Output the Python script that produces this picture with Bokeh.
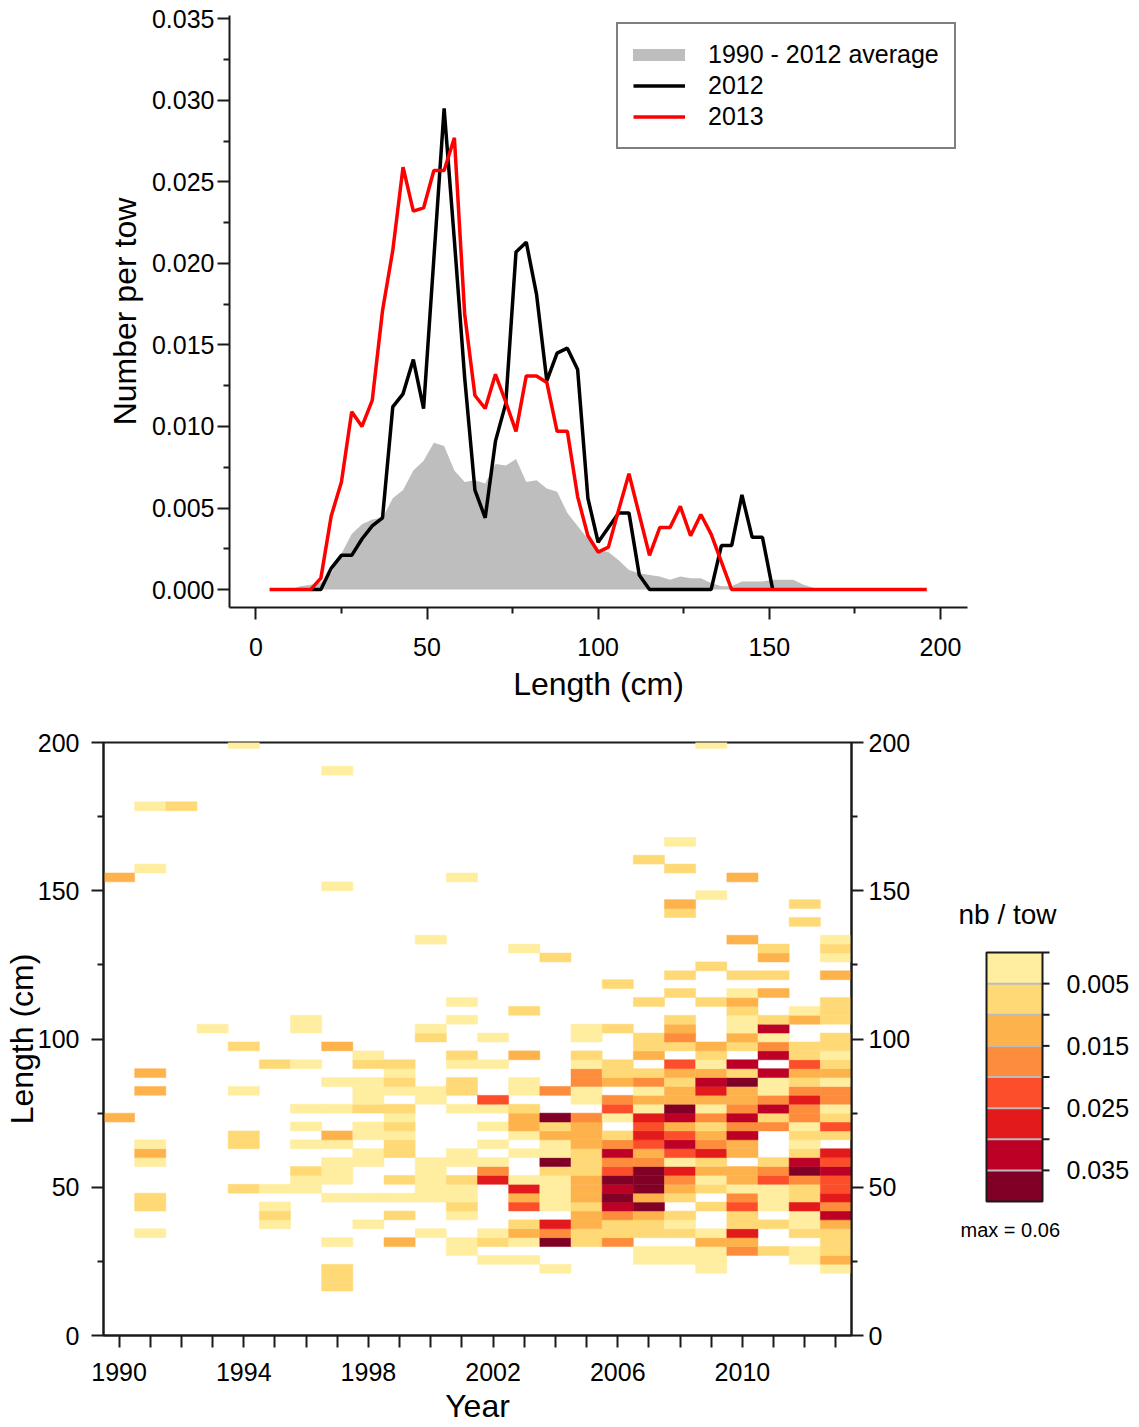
from bokeh.plotting import figure
from bokeh.models import (Range1d, FixedTicker, LinearAxis, Legend, LegendItem,
                          LinearColorMapper, ColumnDataSource, PrintfTickFormatter)
from bokeh.layouts import column, row
from bokeh.transform import transform
from bokeh.core.properties import value
from bokeh.embed import file_html
from bokeh.resources import INLINE

FONT = "Liberation Sans"

# ---------------- top panel data ----------------
length_cm = [4, 7, 10, 13, 16, 19, 22, 25, 28, 31, 34, 37, 40, 43, 46, 49, 52, 55, 58, 61,
             64, 67, 70, 73, 76, 79, 82, 85, 88, 91, 94, 97, 100, 103, 106, 109, 112, 115, 118, 121,
             124, 127, 130, 133, 136, 139, 142, 145, 148, 151, 154, 157, 160, 163, 166, 169, 172, 175, 178, 181,
             184, 187, 190, 193, 196]

avg_1990_2012 = [0, 0, 0, 0.0002, 0.0003, 0.0004, 0.0010, 0.0022, 0.0034, 0.0040,
                 0.0043, 0.0044, 0.0056, 0.0061, 0.0073, 0.0079, 0.0090, 0.0088, 0.0073, 0.0066,
                 0.0067, 0.0065, 0.0077, 0.0076, 0.0080, 0.0066, 0.0067, 0.0062, 0.0060, 0.0047,
                 0.0039, 0.0031, 0.0024, 0.0023, 0.0018, 0.0012, 0.0010, 0.0009, 0.0008, 0.0006,
                 0.0008, 0.0007, 0.0007, 0.0004, 0.0002, 0.0002, 0.0005, 0.0005, 0.0005, 0.0006,
                 0.0006, 0.0006, 0.0003, 0.0001, 0.0001, 0.0001, 0.0001, 0.0001, 0.0001, 0.0001,
                 0, 0, 0, 0, 0]

tow_2013 = [0, 0, 0, 0, 0, 0.0007, 0.0045, 0.0066, 0.0109, 0.0100,
            0.0116, 0.0171, 0.0208, 0.0259, 0.0232, 0.0234, 0.0257, 0.0257, 0.0277, 0.0169,
            0.0119, 0.0111, 0.0132, 0.0115, 0.0097, 0.0131, 0.0131, 0.0127, 0.0097, 0.0097,
            0.0057, 0.0033, 0.0023, 0.0026, 0.0049, 0.0071, 0.0046, 0.0021, 0.0038, 0.0038,
            0.0051, 0.0033, 0.0046, 0.0034, 0.0017, 0, 0, 0, 0, 0,
            0, 0, 0, 0, 0, 0, 0, 0, 0, 0,
            0, 0, 0, 0, 0]

length_2012 = length_cm[4:50]   # 16 .. 151 cm
tow_2012 = [0, 0, 0.0013, 0.0021, 0.0021, 0.0031, 0.0039, 0.0044, 0.0112, 0.0120,
            0.0141, 0.0111, 0.0203, 0.0295, 0.0214, 0.0130, 0.0061, 0.0044, 0.0091, 0.0114,
            0.0207, 0.0213, 0.0181, 0.0128, 0.0145, 0.0148, 0.0135, 0.0056, 0.0029, 0.0038,
            0.0047, 0.0047, 0.0009, 0, 0, 0, 0, 0, 0, 0,
            0.0027, 0.0027, 0.0058, 0.0032, 0.0032, 0]

top_y_ticks = [0.0, 0.005, 0.010, 0.015, 0.020, 0.025, 0.030, 0.035]
top_y_minor = [0.0025, 0.0075, 0.0125, 0.0175, 0.0225, 0.0275, 0.0325]
top_x_ticks = [0, 50, 100, 150, 200]
top_x_minor = [25, 75, 125, 175]

# ---------------- heat map data ----------------
heat_bin_cm = 3
heat_years = list(range(1990, 2014))
heat_labelled_years = [1990, 1994, 1998, 2002, 2006, 2010]
heat_len_ticks = [0, 50, 100, 150, 200]
heat_len_minor = [25, 75, 125, 175]
heat_cells = [
    [(72, .0125), (153, .0125)],  # 1990
    [(33, .003), (42, .0075), (45, .0075), (57, .003), (60, .0125), (63, .003), (81, .0125), (87, .0125),
     (156, .003), (177, .003)],  # 1991
    [(177, .0075)],  # 1992
    [(102, .003)],  # 1993
    [(48, .0075), (63, .0075), (66, .0075), (81, .003), (96, .0075), (198, .003)],  # 1994
    [(36, .003), (39, .0075), (42, .003), (48, .003), (90, .0075)],  # 1995
    [(48, .003), (51, .003), (54, .0075), (63, .003), (69, .003), (75, .003), (90, .003), (102, .003),
     (105, .003)],  # 1996
    [(15, .0075), (18, .0075), (21, .0075), (30, .003), (45, .003), (51, .003), (54, .003), (57, .003),
     (63, .003), (66, .0125), (75, .003), (84, .003), (96, .0125), (150, .003), (189, .003)],  # 1997
    [(36, .003), (45, .003), (57, .003), (60, .003), (66, .003), (69, .003), (75, .0075), (78, .003),
     (81, .003), (84, .003), (90, .0075), (93, .003)],  # 1998
    [(30, .0125), (39, .0075), (45, .003), (51, .0075), (60, .0075), (63, .0075), (66, .003), (69, .0075),
     (72, .003), (75, .0075), (81, .003), (84, .0075), (87, .003), (90, .0075)],  # 1999
    [(33, .003), (45, .003), (48, .003), (51, .003), (54, .003), (57, .003), (78, .003), (81, .003),
     (99, .0075), (102, .003), (132, .003)],  # 2000
    [(27, .003), (30, .003), (39, .003), (42, .0075), (45, .003), (48, .003), (51, .0075), (57, .003),
     (60, .003), (75, .003), (81, .0075), (84, .0075), (90, .003), (93, .0075), (105, .003), (111, .003),
     (153, .003)],  # 2001
    [(24, .003), (30, .0075), (33, .003), (51, .0275), (54, .0175), (57, .003), (63, .003), (69, .003),
     (75, .003), (78, .0225), (90, .003), (99, .003)],  # 2002
    [(24, .003), (30, .003), (33, .0125), (36, .0075), (42, .0225), (45, .0125), (48, .0275), (51, .003),
     (60, .003), (66, .003), (69, .0125), (72, .0125), (75, .0075), (81, .003), (84, .003), (93, .0125),
     (108, .0075), (129, .003)],  # 2003
    [(21, .003), (30, .045), (33, .0175), (36, .0275), (42, .003), (45, .003), (48, .003), (51, .003),
     (54, .0075), (57, .045), (60, .003), (63, .003), (66, .0125), (69, .0075), (72, .045), (81, .0175),
     (126, .0075)],  # 2004
    [(30, .0075), (33, .0075), (36, .0125), (39, .0125), (42, .0075), (45, .0125), (48, .0125), (51, .0125),
     (54, .0075), (57, .0075), (60, .0075), (63, .0125), (66, .0125), (69, .0125), (72, .0175), (78, .003),
     (81, .003), (84, .0175), (87, .0175), (90, .003), (93, .0075), (99, .003), (102, .003)],  # 2005
    [(30, .0175), (33, .0075), (36, .0075), (39, .0175), (42, .0325), (45, .045), (48, .0325), (51, .045),
     (54, .0225), (57, .0175), (60, .0325), (63, .0175), (66, .0075), (72, .003), (75, .0225), (78, .0175),
     (84, .0125), (87, .0075), (90, .0075), (102, .0075), (117, .0075)],  # 2006
    [(24, .003), (27, .003), (33, .0075), (36, .0075), (39, .0125), (42, .045), (45, .0125), (48, .045),
     (51, .06), (54, .045), (57, .0175), (60, .0125), (63, .0225), (66, .0275), (69, .0225), (72, .0275),
     (75, .003), (78, .0125), (81, .003), (84, .0175), (87, .0075), (93, .0125), (96, .0075), (99, .0075),
     (111, .0075), (159, .0075)],  # 2007
    [(24, .003), (27, .003), (33, .0075), (36, .003), (39, .0075), (45, .0075), (48, .0125), (51, .0175),
     (54, .0275), (57, .003), (60, .0225), (63, .0325), (66, .0225), (69, .0125), (72, .0325), (75, .045),
     (78, .0125), (81, .0125), (84, .0075), (87, .0125), (90, .0225), (96, .0075), (99, .0175), (102, .0125),
     (105, .0075), (114, .0075), (120, .0075), (141, .0075), (144, .0125), (156, .0075), (165, .003)],  # 2008
    [(21, .003), (24, .003), (27, .003), (30, .0125), (33, .003), (42, .0075), (48, .0075), (51, .003),
     (54, .0125), (57, .0075), (60, .0275), (63, .0175), (66, .0125), (69, .0075), (72, .0175), (75, .003),
     (78, .0125), (81, .0275), (84, .0325), (87, .0125), (90, .003), (93, .0075), (96, .0125), (111, .0075),
     (123, .0075), (147, .003), (198, .003)],  # 2009
    [(27, .0175), (30, .0125), (33, .0275), (36, .0075), (39, .0075), (42, .0225), (45, .0175), (48, .003),
     (51, .0125), (54, .0125), (60, .0125), (63, .0125), (66, .0325), (69, .0175), (72, .0325), (75, .0175),
     (78, .0125), (81, .0125), (84, .045), (87, .0075), (90, .0325), (96, .0075), (99, .0125), (102, .003),
     (105, .003), (108, .0075), (111, .0125), (114, .003), (120, .0075), (132, .0125), (153, .0125)],  # 2010
    [(27, .0075), (36, .0075), (42, .003), (45, .003), (48, .003), (51, .0225), (54, .0175), (57, .0075),
     (69, .0175), (72, .0075), (75, .0325), (78, .0175), (81, .003), (84, .003), (87, .0325), (93, .0325),
     (96, .0175), (99, .003), (102, .0325), (105, .0075), (114, .0125), (120, .0075), (126, .0125),
     (129, .0075)],  # 2011
    [(24, .003), (27, .003), (33, .0075), (36, .003), (39, .003), (42, .0275), (45, .0075), (48, .0075),
     (51, .0175), (54, .045), (57, .0325), (60, .0075), (63, .003), (66, .0075), (69, .003), (72, .0175),
     (75, .0175), (78, .0275), (81, .0175), (84, .0075), (87, .0125), (90, .0225), (93, .0075), (96, .0075),
     (105, .0125), (108, .003), (138, .0075), (144, .0075)],  # 2012
    [(21, .003), (24, .0125), (27, .0075), (30, .0075), (33, .0075), (36, .0125), (39, .0325), (42, .0175),
     (45, .0275), (48, .0225), (51, .0225), (54, .0325), (57, .0225), (60, .0275), (66, .0075), (69, .0225),
     (72, .0075), (75, .003), (78, .0175), (81, .0175), (84, .003), (87, .0125), (90, .0075), (93, .003),
     (96, .0075), (99, .0075), (105, .0075), (108, .0075), (111, .0075), (120, .0125), (126, .003),
     (129, .0075), (132, .003)],  # 2013
]

palette8 = ["#FFEDA0", "#FED976", "#FEB24C", "#FD8D3C", "#FC4E2A", "#E31A1C", "#BD0026", "#800026"]
cbar_breaks = [0.0, 0.005, 0.010, 0.015, 0.020, 0.025, 0.030, 0.035, 0.040]
cbar_labelled = [0.005, 0.015, 0.025, 0.035]
cbar_title = "nb / tow"
heat_max = 0.06

AX = "#1a1a1a"
TICK_FS = "25px"
TITLE_FS = "32px"


def style_axis(ax, tick_size=TICK_FS, label_size=TITLE_FS):
    ax.axis_line_color = AX
    ax.axis_line_width = 2
    ax.major_tick_line_color = AX
    ax.major_tick_line_width = 2
    ax.minor_tick_line_color = AX
    ax.minor_tick_line_width = 2
    ax.major_tick_in = 0
    ax.major_tick_out = 12
    ax.minor_tick_in = 0
    ax.minor_tick_out = 6
    ax.major_label_text_font = FONT
    ax.major_label_text_font_size = tick_size
    ax.major_label_text_color = "black"
    ax.axis_label_text_font = FONT
    ax.axis_label_text_font_size = label_size
    ax.axis_label_text_font_style = "normal"
    ax.axis_label_text_color = "black"


# ---------------- top figure ----------------
top = figure(width=1139, height=706, x_range=Range1d(-7.7, 207.9), y_range=Range1d(-0.0011, 0.0352),
             output_backend="svg", toolbar_location=None,
             min_border_left=229, min_border_right=172, min_border_top=15, min_border_bottom=99)
top.outline_line_color = None
top.grid.visible = False
top.background_fill_color = "white"
top.border_fill_color = "white"

src_all = ColumnDataSource(dict(x=length_cm, avg=avg_1990_2012, y13=tow_2013))
src_12 = ColumnDataSource(dict(x=length_2012, y12=tow_2012))

top.varea(x="x", y1=0, y2="avg", source=src_all, fill_color="#BEBEBE", fill_alpha=1)
r12 = top.line(x="x", y="y12", source=src_12, line_color="black", line_width=3.5)
r13 = top.line(x="x", y="y13", source=src_all, line_color="#FF0000", line_width=3.5)
# legend-only key for the average (NaN values -> nothing drawn in the plot area)
r_avg_leg = top.line(x=length_cm[:2], y=[float("nan"), float("nan")],
                     line_color="#BEBEBE", line_width=12, line_cap="round")

xa = top.xaxis[0]
xa.ticker = FixedTicker(ticks=top_x_ticks, minor_ticks=top_x_minor)
xa.axis_label = "Length (cm)"
style_axis(xa)
xa.major_label_standoff = 18
xa.axis_label_standoff = 7

ya = top.yaxis[0]
ya.ticker = FixedTicker(ticks=top_y_ticks, minor_ticks=top_y_minor)
ya.formatter = PrintfTickFormatter(format="%.3f")
ya.axis_label = "Number per tow"
style_axis(ya)
ya.major_label_standoff = 3
ya.axis_label_standoff = 6

legend = Legend(items=[LegendItem(label="1990 - 2012 average", renderers=[r_avg_leg]),
                       LegendItem(label="2012", renderers=[r12]),
                       LegendItem(label="2013", renderers=[r13])],
                location=(387, 458))
legend.label_text_font = FONT
legend.label_text_font_size = "25px"
legend.label_text_color = "black"
legend.border_line_color = "black"
legend.border_line_width = 2
legend.background_fill_color = "white"
legend.background_fill_alpha = 1
legend.padding = 15
legend.spacing = 0
legend.glyph_width = 52
legend.glyph_height = 31
legend.label_height = 31
legend.label_standoff = 23
legend.label_width = 229
legend.margin = 0
top.add_layout(legend)

# ---------------- heat map figure ----------------
mapper = LinearColorMapper(palette=palette8, low=cbar_breaks[0], high=cbar_breaks[-1],
                           high_color=palette8[-1])

cols = dict(left=[], right=[], bottom=[], top=[], val=[])
for yr, cells in zip(heat_years, heat_cells):
    for b, v in cells:
        cols["left"].append(yr - 0.5)
        cols["right"].append(yr + 0.5)
        cols["bottom"].append(b)
        cols["top"].append(b + heat_bin_cm)
        cols["val"].append(v)
heat_src = ColumnDataSource(cols)

ROW_H = 721
BORDER_T, BORDER_B = 36, 92

heat = figure(width=940, height=ROW_H, x_range=Range1d(heat_years[0] - 0.5, heat_years[-1] + 0.5),
              y_range=Range1d(0, 200), output_backend="svg", toolbar_location=None,
              min_border_left=103, min_border_right=89, min_border_top=BORDER_T, min_border_bottom=BORDER_B)
heat.grid.visible = False
heat.outline_line_color = AX
heat.outline_line_width = 2
heat.background_fill_color = "white"
heat.border_fill_color = "white"
heat.quad(left="left", right="right", bottom="bottom", top="top", source=heat_src,
          fill_color=transform("val", mapper), line_color=transform("val", mapper), line_width=0.5)

hx = heat.xaxis[0]
hx.ticker = FixedTicker(ticks=heat_years)
hx.major_label_overrides = {y: (str(y) if y in heat_labelled_years else "") for y in heat_years}
hx.axis_label = "Year"
style_axis(hx)
hx.major_label_standoff = 15
hx.axis_label_standoff = 4

hy = heat.yaxis[0]
hy.ticker = FixedTicker(ticks=heat_len_ticks, minor_ticks=heat_len_minor)
hy.axis_label = "Length (cm)"
style_axis(hy)
hy.major_label_standoff = 12
hy.axis_label_standoff = -5

hy2 = LinearAxis(ticker=FixedTicker(ticks=heat_len_ticks, minor_ticks=heat_len_minor))
style_axis(hy2)
hy2.major_label_standoff = 5
heat.add_layout(hy2, "right")

# ---------------- colour key (own panel, same vertical borders as the heat map) ----------------
KEY_W = 199
BAR_X0, BAR_X1 = 46, 102          # bar left/right inside the panel (screen px)
BAR_TOP_PX, BAR_BOT_PX = 210, 134  # gap frame top -> bar top, bar bottom -> frame bottom
bar_h_px = (ROW_H - BORDER_T - BORDER_B) - BAR_TOP_PX - BAR_BOT_PX
k = (cbar_breaks[-1] - cbar_breaks[0]) / bar_h_px   # data units per pixel

cb = figure(width=KEY_W, height=ROW_H, x_range=Range1d(0, KEY_W),
            y_range=Range1d(cbar_breaks[-1] + BAR_BOT_PX * k, cbar_breaks[0] - BAR_TOP_PX * k),
            output_backend="svg", toolbar_location=None, x_axis_location=None, y_axis_location=None,
            min_border_left=0, min_border_right=0, min_border_top=BORDER_T, min_border_bottom=BORDER_B)
cb.grid.visible = False
cb.outline_line_color = None
cb.background_fill_color = "white"
cb.border_fill_color = "white"

cb_src = ColumnDataSource(dict(bottom=cbar_breaks[:-1], top=cbar_breaks[1:], color=palette8))
cb.quad(left=BAR_X0, right=BAR_X1, bottom="bottom", top="top", fill_color="color", line_color=None,
        source=cb_src)
cb.segment(x0=BAR_X0, x1=BAR_X1, y0=cbar_breaks[1:-1], y1=cbar_breaks[1:-1],
           line_color="#BBBBBB", line_width=2)
cb.quad(left=BAR_X0, right=BAR_X1, bottom=cbar_breaks[0], top=cbar_breaks[-1],
        fill_color=None, line_color=AX, line_width=2)
cb.segment(x0=BAR_X1, x1=BAR_X1 + 7, y0=cbar_breaks[:-1], y1=cbar_breaks[:-1],
           line_color=AX, line_width=2)
cb.text(x=BAR_X1 + 24, y=cbar_labelled, text=["%.3f" % v for v in cbar_labelled],
        text_font=value(FONT), text_font_size="25px", text_baseline="middle", text_align="left",
        text_color="black")
cb.text(x=[18], y=[cbar_breaks[0] - 38 * k], text=[cbar_title],
        text_font=value(FONT), text_font_size="28px", text_baseline="middle", text_align="left",
        text_color="black")
cb.text(x=[20], y=[cbar_breaks[-1] + 28 * k], text=["max = %.2f" % heat_max],
        text_font=value(FONT), text_font_size="20px", text_baseline="middle", text_align="left",
        text_color="black")

layout = column(top, row(heat, cb))
open("out.html", "w").write(file_html(layout, INLINE))
